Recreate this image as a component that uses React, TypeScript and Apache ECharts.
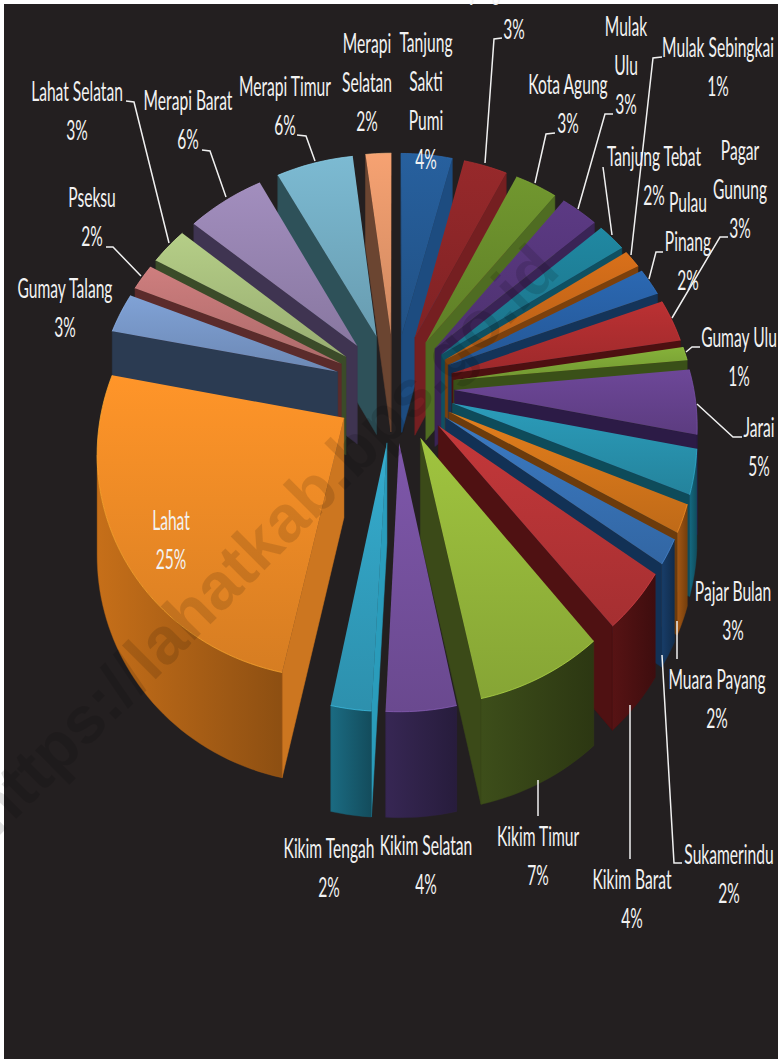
import React, { useEffect, useRef } from "react";
import * as echarts from "echarts";

// ---- data (share of each district, percent, clockwise from north)
const districts = [
  "Tanjung\nSakti\nPumi", "Tanjung Sakti Pumu", "Kota Agung", "Mulak\nUlu", "Tanjung Tebat", "Mulak Sebingkai",
  "Pulau\nPinang", "Pagar\nGunung", "Gumay Ulu", "Jarai", "Pajar Bulan", "Muara Payang",
  "Sukamerindu", "Kikim Barat", "Kikim Timur", "Kikim Selatan", "Kikim Tengah", "Lahat",
  "Gumay Talang", "Pseksu", "Lahat Selatan", "Merapi Barat", "Merapi Timur", "Merapi\nSelatan",
];
const shares = [4.0, 3.4, 3.3, 2.9, 2.2, 1.4, 2.1, 3.2, 1.0, 4.7, 3.2, 2.0, 1.8, 4.2, 7.4, 4.0, 2.3, 25.0, 3.0, 2.0, 2.9, 6.0, 6.0, 2.0];

// ---- styles
const topColors = [
  "#27609e", "#97292b", "#71972f", "#5c3a84", "#2088a2", "#d9701a",
  "#2b68b2", "#bb3133", "#86b23a", "#6d4798", "#2b9cba", "#e37e1c",
  "#3b7ac2", "#c4383a", "#a0c43f", "#7e57aa", "#35acce", "#ff9529",
  "#80a2d6", "#ce7e7e", "#b5ce87", "#a28ebe", "#7cbad2", "#f6a272",
];
const radialWallColors = [
  "#1d4c80", "#751f21", "#4f6c22", "#3a2456", "#0f5062", "#7c400c",
  "#143459", "#4d1011", "#3a5018", "#2c1b46", "#0e4b5a", "#6c3b0c",
  "#123155", "#4f1112", "#3b4a18", "#2f2147", "#2a9cbb", "#cc7620",
  "#2b3b52", "#5b2b2b", "#3b4b29", "#3f3451", "#2e5159", "#6b4531",
];
const outerWallColors = [
  "#1d4c80", "#751f21", "#4f6c22", "#3a2456", "#0f5062", "#a85b14",
  "#143459", "#4d1011", "#3a5018", "#2c1b46", "#125a6e", "#8a4a10",
  "#143459", "#4a1011", "#344216", "#2f2147", "#175b6e", "#a85e15",
  "#2b3b52", "#5b2b2b", "#3b4b29", "#3f3451", "#2e5159", "#6b4531",
];

// ---- layout of the labels and their leader lines
const labelCentres: [number, number][] = [
  [426, 101], [514, 10], [568, 104], [626, 65], [654, 176], [718, 67],
  [688, 241], [740, 189], [739, 357], [759, 447], [733, 611], [717, 699],
  [729, 874], [632, 899], [538, 856], [426, 865], [329, 868], [171, 540],
  [65, 308], [92, 217], [77, 111], [188, 120], [285, 106], [367, 82],
];
const leaderLines: [number, number][][] = [
  [[502, 38], [494, 39], [485, 163]],
  [[555, 133], [546, 134], [535, 183]],
  [[613, 114], [605, 114], [578, 209]],
  [[603, 167], [612, 235]],
  [[662, 57], [653, 58], [631, 255]],
  [[663, 252], [656, 252], [649, 279]],
  [[728, 237], [720, 237], [672, 318]],
  [[700, 347], [692, 347], [686, 352]],
  [[742, 437], [733, 437], [697, 404]],
  [[677, 659], [677, 621]],
  [[682, 863], [674, 863], [662, 655]],
  [[630, 859], [630, 705]],
  [[538, 816], [538, 780]],
  [[297, 135], [306, 136], [315, 161]],
  [[202, 150], [210, 151], [226, 197]],
  [[126, 101], [134, 102], [169, 243]],
  [[106, 247], [113, 247], [141, 276]],
];

// ---- perspective of the pie's top plane
const CX = 394.5, CY = 387, AX = 299, BY = 272, K = 0.163;
const EXPLODE = 0.2, RADIUS = 0.8;
const wallDepth = (v: number) => 99 + 7 * v;
const project = (u: number, v: number, drop = 0): [number, number] => {
  const w = 1 - K * v;
  return [CX + (AX * u) / w, CY + (BY * v) / w + drop * wallDepth(v)];
};

const total = shares.reduce((a, b) => a + b, 0);
const starts: number[] = [];
shares.reduce((acc, s, i) => {
  starts[i] = acc;
  return acc + s;
}, 0);
const toAngle = (s: number) => (s / total) * Math.PI * 2;
const midAngle = (i: number) => toAngle(starts[i] + shares[i] / 2);
const drawOrder = shares.map((_, i) => i).sort((a, b) => -Math.cos(midAngle(a)) + Math.cos(midAngle(b)));

const shade = (hex: string, f: number) => {
  const n = parseInt(hex.slice(1), 16);
  const c = [(n >> 16) & 255, (n >> 8) & 255, n & 255].map((x) => Math.min(255, Math.round(x * f)));
  return `rgb(${c[0]},${c[1]},${c[2]})`;
};
const gradient = (a: string, b: string, horizontal = false) => ({
  type: "linear",
  x: 0,
  y: 0,
  x2: horizontal ? 1 : 0,
  y2: horizontal ? 0 : 1,
  colorStops: [
    { offset: 0, color: a },
    { offset: 1, color: b },
  ],
});

const renderSlice = (params: any, api: any) => {
  const i = api.value(0) as number;
  const value = api.value(1) as number;
  const b0 = toAngle(starts[i]);
  const b1 = toAngle(starts[i] + value);
  const mid = (b0 + b1) / 2;
  const apex = [EXPLODE * Math.sin(mid), -EXPLODE * Math.cos(mid)];
  const rim = (b: number) => [apex[0] + RADIUS * Math.sin(b), apex[1] - RADIUS * Math.cos(b)];
  const steps = Math.max(2, Math.ceil((b1 - b0) / 0.03));
  const arc: number[][] = [];
  for (let s = 0; s <= steps; s++) arc.push(rim(b0 + ((b1 - b0) * s) / steps));
  const arcTop = arc.map(([u, v]) => project(u, v));
  const apexTop = project(apex[0], apex[1]);
  const apexLow = project(apex[0], apex[1], 1);
  const children: any[] = [];
  const z = drawOrder.indexOf(i) * 10;

  // radial cut faces, only when they look towards the viewer
  const radial = (uv: number[], pt: number[], other: number[]) => {
    const dx = pt[0] - apexTop[0], dy = pt[1] - apexTop[1];
    const sideOther = dx * (other[1] - apexTop[1]) - dy * (other[0] - apexTop[0]);
    const sideDown = dx * 100;
    if (sideOther * sideDown < 0) {
      children.push({
        type: "polygon",
        z2: z + 1,
        shape: { points: [apexTop, pt, project(uv[0], uv[1], 1), apexLow] },
        style: { fill: radialWallColors[i], stroke: radialWallColors[i], lineWidth: 0.5 },
      });
    }
  };
  radial(arc[0], arcTop[0], arcTop[arcTop.length - 1]);
  radial(arc[arc.length - 1], arcTop[arcTop.length - 1], arcTop[0]);

  // outer curved wall, the part that faces the viewer
  let run: number[][] = [];
  const flush = () => {
    if (run.length > 1) {
      const low = run.map(([u, v]) => project(u, v, 1)).reverse();
      children.push({
        type: "polygon",
        z2: z + 2,
        shape: { points: [...run.map(([u, v]) => project(u, v)), ...low] },
        style: {
          fill: gradient(shade(outerWallColors[i], 1.18), shade(outerWallColors[i], 0.84), true),
          stroke: outerWallColors[i],
          lineWidth: 0.4,
        },
      });
    }
    run = [];
  };
  for (let s = 0; s < steps; s++) {
    if (arcTop[s + 1][0] < arcTop[s][0]) {
      if (!run.length) run.push(arc[s]);
      run.push(arc[s + 1]);
    } else flush();
  }
  flush();

  // top face
  children.push({
    type: "polygon",
    z2: z + 3,
    shape: { points: [apexTop, ...arcTop] },
    style: { fill: gradient(topColors[i], shade(topColors[i], 0.84)) },
  });
  children.push({
    type: "polyline",
    z2: z + 4,
    shape: { points: arcTop },
    style: { fill: "none", stroke: shade(topColors[i], 1.15), lineWidth: 1, opacity: 0.7 },
  });
  return { type: "group", children };
};

const FONT = "Lato, 'Open Sans', sans-serif";
const textScale = 0.6;

export default function App() {
  const ref = useRef<HTMLDivElement>(null);
  useEffect(() => {
    document.body.style.margin = "0";
    const chart = echarts.init(ref.current!, undefined, { renderer: "svg" });
    const labels = districts.map((name, i) => ({
      type: "text",
      z: 20,
      silent: true,
      x: labelCentres[i][0],
      y: labelCentres[i][1],
      scaleX: textScale,
      style: {
        text: `${name}\n${Math.round(shares[i])}%`,
        fontFamily: FONT,
        fontSize: 26,
        lineHeight: 39,
        fill: "#f2f2f2",
        align: "center",
        verticalAlign: "middle",
      },
    }));
    const leaders = leaderLines.map((points) => ({
      type: "polyline",
      z: 19,
      silent: true,
      shape: { points },
      style: { fill: "none", stroke: "#f0f0f0", lineWidth: 1.5 },
    }));
    chart.setOption({
      animation: false,
      backgroundColor: "#ffffff",
      graphic: {
        elements: [
          { type: "rect", z: -10, silent: true, shape: { x: 4, y: 4, width: 774, height: 1055 }, style: { fill: "#231f20" } },
          {
            type: "text",
            z: 15,
            silent: true,
            x: 4,
            y: 845,
            rotation: (45 * Math.PI) / 180,
            style: {
              text: "https://lahatkab.bps.go.id",
              fontFamily: "'Liberation Sans', Arial, sans-serif",
              fontWeight: "bold",
              fontSize: 66,
              fill: "rgba(0,0,0,0.12)",
              align: "left",
              verticalAlign: "bottom",
            },
          },
          ...leaders,
          ...labels,
        ],
      },
      series: [
        {
          type: "custom",
          coordinateSystem: "none",
          silent: true,
          clip: false,
          z: 5,
          renderItem: renderSlice,
          encode: { value: 1 },
          data: drawOrder.map((i) => [i, shares[i]]),
        },
      ],
    });
    return () => chart.dispose();
  }, []);
  return <div ref={ref} style={{ width: 778, height: 1059 }} />;
}
